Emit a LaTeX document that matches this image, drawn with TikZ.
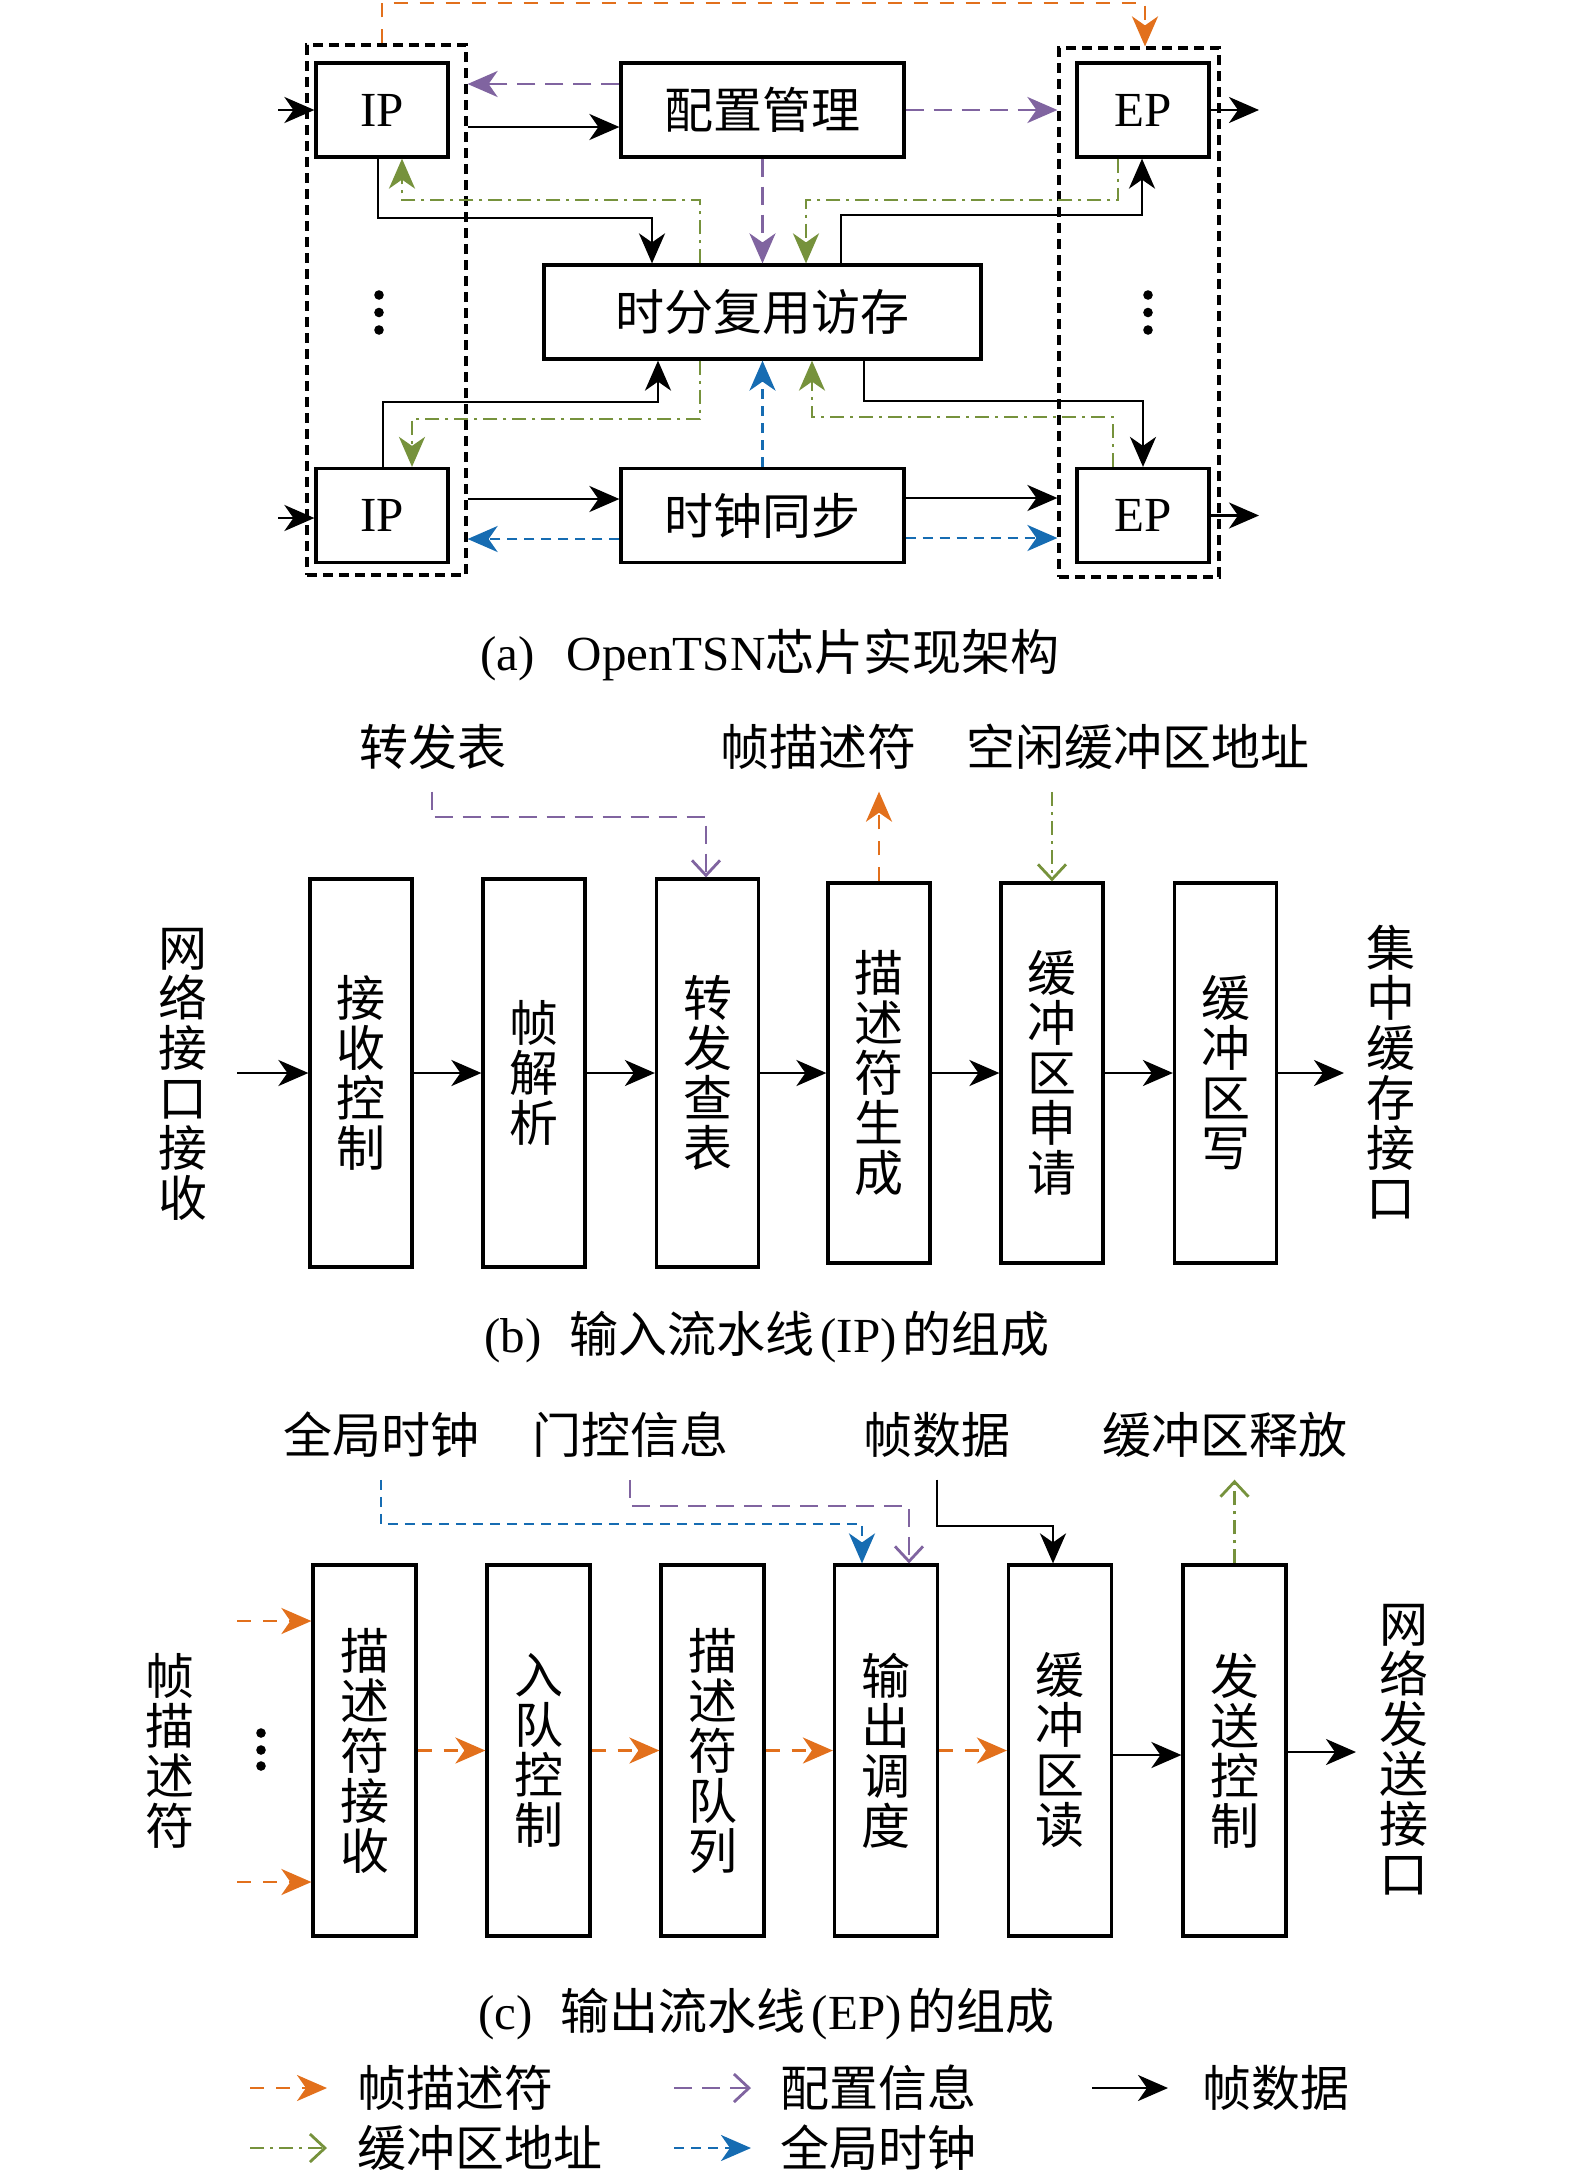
\documentclass[tikz,border=0pt]{standalone}
\usepackage{fontspec}
\setmainfont{Liberation Serif}
\newfontfamily\cjk{Noto Sans CJK SC}
\usetikzlibrary{arrows.meta}
\definecolor{corange}{RGB}{226,112,28}
\definecolor{cpurple}{RGB}{128,100,160}
\definecolor{cgreen}{RGB}{118,146,60}
\definecolor{cblue}{RGB}{22,108,178}
\newcommand\sz{\fontsize{24.5pt}{25pt}\selectfont}
\begin{document}
\begin{tikzpicture}[x=0.5pt,y=-0.5pt,font=\sz,
  box/.style={draw,line width=1.6pt,inner sep=0pt,font=\sz\cjk,align=center},
  lat/.style={draw,line width=1.6pt,inner sep=0pt,font=\sz,minimum width=66pt,minimum height=47pt},
  dbox/.style={draw,line width=1.6pt,dash pattern=on 5pt off 3pt,inner sep=0pt},
  lbl/.style={inner sep=0pt,outer sep=11pt,font=\sz\cjk},
  vtxt/.style={inner sep=0pt,font=\sz\cjk,align=center},
  leg/.style={inner sep=0pt,font=\sz\cjk,anchor=west},
  arrS/.style={-{Stealth[length=15pt,width=13pt,inset=4.5pt]}},
  arrV/.style={-{Straight Barb[length=7.5pt,width=14pt]}},
  blk/.style={line width=1.4pt,arrS},
  orA/.style={line width=1.4pt,corange,dash pattern=on 7pt off 6pt,arrS},
  puA/.style={line width=1.4pt,cpurple,dash pattern=on 9pt off 5pt,arrS},
  puV/.style={line width=1.4pt,cpurple,dash pattern=on 9pt off 5pt,arrV},
  grA/.style={line width=1.4pt,cgreen,dash pattern=on 7pt off 3pt on 1.5pt off 3pt,arrS},
  grV/.style={line width=1.4pt,cgreen,dash pattern=on 7pt off 3pt on 1.5pt off 3pt,arrV},
  blA/.style={line width=1.4pt,cblue,dash pattern=on 5pt off 3.5pt,arrS},
  bbox/.style={box,minimum width=51pt,minimum height=194pt},
  bboxs/.style={box,minimum width=51pt,minimum height=190pt},
  cbox/.style={box,minimum width=51.5pt,minimum height=185.5pt},
]
\useasboundingbox (0,0) rectangle (1575,2175);

% ---------------- (a) ----------------
\node[dbox,minimum width=79.5pt,minimum height=265pt] (lg) at (386.5,310) {};
\node[dbox,minimum width=80pt,minimum height=264.5pt] (rg) at (1139,312.5) {};
\node[lat] (ip1) at (382,110) {IP};
\node[box,minimum width=141.5pt,minimum height=47pt] (cfg) at (762.5,110) {配置管理};
\node[lat] (ep1) at (1143,110) {EP};
\node[box,minimum width=218.5pt,minimum height=47pt] (tdm) at (762.5,312) {时分复用访存};
\node[lat] (ip2) at (382,515.5) {IP};
\node[box,minimum width=141.5pt,minimum height=47pt] (clk) at (762.5,515.5) {时钟同步};
\node[lat] (ep2) at (1143,515.5) {EP};

\coordinate (ain1) at (278,110);
\coordinate (ain2) at (278,518);
\coordinate (aout1) at (1259,110);
\coordinate (aout2) at (1259,515.5);
\draw[blk] (ain1) -- (ip1.west);
\draw[blk] (ain2) -- (ip2.west |- ain2);
\draw[blk] (ep1.east) -- (aout1);
\draw[blk] (ep2.east) -- (aout2);

\draw[orA] (lg.north -| 382,0) -- (382,3) -| (1145,0 |- rg.north);
\draw[puA] (cfg.west |- 0,84) -- (lg.east |- 0,84);
\draw[blk] (lg.east |- 0,127) -- (cfg.west |- 0,127);
\draw[puA] (cfg.east) -- (rg.west |- cfg.east);
\draw[puA] (cfg.south) -- (tdm.north);
\draw[grA] (tdm.north -| 700,0) |- (402,200) -- (ip1.south -| 402,0);
\draw[blk] (ip1.south -| 378,0) |- (652,218) -- (tdm.north -| 652,0);
\draw[grA] (ep1.south -| 1118,0) |- (806,200) -- (tdm.north -| 806,0);
\draw[blk] (tdm.north -| 841,0) |- (1142,215) -- (ep1.south -| 1142,0);
\draw[blk] (ip2.north -| 383,0) |- (658,402) -- (tdm.south -| 658,0);
\draw[grA] (tdm.south -| 700,0) |- (412,419) -- (ip2.north -| 412,0);
\draw[blA] (clk.north) -- (tdm.south);
\draw[grA] (ep2.north -| 1113,0) |- (812,417) -- (tdm.south -| 812,0);
\draw[blk] (tdm.south -| 864,0) |- (1143,401) -- (ep2.north -| 1143,0);
\draw[blk] (lg.east |- 0,499) -- (clk.west |- 0,499);
\draw[blA] (clk.west |- 0,539) -- (lg.east |- 0,539);
\draw[blk] (clk.east |- 0,498) -- (rg.west |- 0,498);
\draw[blA] (clk.east |- 0,538) -- (rg.west |- 0,538);
\foreach \yy in {295,312.5,330}{
  \fill (379,\yy) circle (2.4pt);
  \fill (1148,\yy) circle (2.4pt);
}
\node[anchor=west,inner sep=0pt] (capa) at (480,655) {(a)\hspace{16pt}OpenTSN{\cjk 芯片实现架构}};

% ---------------- (b) ----------------
\node[lbl] (lb1) at (433,747) {转发表};
\node[lbl] (lb2) at (818,747) {帧描述符};
\node[lbl] (lb3) at (1138,747) {空闲缓冲区地址};
\node[bbox] (b1) at (361,1073) {接\\收\\控\\制};
\node[bbox] (b2) at (534,1073) {帧\\解\\析};
\node[bbox] (b3) at (707.5,1073) {转\\发\\查\\表};
\node[bboxs] (b4) at (879,1073) {描\\述\\符\\生\\成};
\node[bboxs] (b5) at (1052,1073) {缓\\冲\\区\\申\\请};
\node[bboxs] (b6) at (1225.5,1073) {缓\\冲\\区\\写};
\node[vtxt] (vb1) at (183,1074) {网\\络\\接\\口\\接\\收};
\node[vtxt] (vb2) at (1391,1072) {集\\中\\缓\\存\\接\\口};
\coordinate (bin) at (237,1073);
\coordinate (bout) at (1344,1073);
\draw[blk] (bin) -- (b1.west);
\draw[blk] (b1.east) -- (b2.west);
\draw[blk] (b2.east) -- (b3.west);
\draw[blk] (b3.east) -- (b4.west);
\draw[blk] (b4.east) -- (b5.west);
\draw[blk] (b5.east) -- (b6.west);
\draw[blk] (b6.east) -- (bout);
\draw[puV] (lb1.south -| 432,0) |- (706,817) -- (b3.north -| 706,0);
\draw[orA] (b4.north) -- (b4.north |- lb2.south);
\draw[grV] (b5.north |- lb3.south) -- (b5.north);
\node[anchor=west,inner sep=0pt] (capb) at (484,1337) {(b)\hspace{14pt}{\cjk 输入流水线}\hspace{3pt}(IP)\hspace{3pt}{\cjk 的组成}};

% ---------------- (c) ----------------
\node[lbl] (lc1) at (381,1435) {全局时钟};
\node[lbl] (lc2) at (630,1435) {门控信息};
\node[lbl] (lc3) at (937,1435) {帧数据};
\node[lbl] (lc4) at (1225,1435) {缓冲区释放};
\node[cbox] (c1) at (364.5,1750.5) {描\\述\\符\\接\\收};
\node[cbox] (c2) at (538.5,1750.5) {入\\队\\控\\制};
\node[cbox] (c3) at (712.5,1750.5) {描\\述\\符\\队\\列};
\node[cbox] (c4) at (886,1750.5) {输\\出\\调\\度};
\node[cbox] (c5) at (1060,1750.5) {缓\\冲\\区\\读};
\node[cbox] (c6) at (1234.5,1750.5) {发\\送\\控\\制};
\node[vtxt] (vc1) at (170,1751) {帧\\描\\述\\符};
\node[vtxt] (vc2) at (1404,1750) {网\\络\\发\\送\\接\\口};
\coordinate (cin1) at (237,1621);
\coordinate (cin2) at (237,1882);
\coordinate (cout) at (1356,1752);
\draw[orA] (cin1) -- (c1.west |- cin1);
\draw[orA] (cin2) -- (c1.west |- cin2);
\foreach \yy in {1733,1750,1766}{\fill (261,\yy) circle (2.4pt);}
\draw[orA] (c1.east) -- (c2.west);
\draw[orA] (c2.east) -- (c3.west);
\draw[orA] (c3.east) -- (c4.west);
\draw[orA] (c4.east) -- (c5.west);
\draw[blk] (c5.east |- 0,1755) -- (c6.west |- 0,1755);
\draw[blk] (c6.east |- cout) -- (cout);
\draw[blA] (lc1.south) |- (862,1524) -- (c4.north -| 862,0);
\draw[puV] (lc2.south) |- (909,1506) -- (c4.north -| 909,0);
\draw[blk] (lc3.south) |- (1053,1526) -- (c5.north -| 1053,0);
\draw[grV] (c6.north) -- (c6.north |- lc4.south);
\node[anchor=west,inner sep=0pt] (capc) at (478,2014) {(c)\hspace{14pt}{\cjk 输出流水线}\hspace{3pt}(EP)\hspace{3pt}{\cjk 的组成}};

% ---------------- legend ----------------
\node[leg] (t1) at (357,2088) {帧描述符};
\node[leg] (t2) at (780,2088) {配置信息};
\node[leg] (t3) at (1202,2088) {帧数据};
\node[leg] (t4) at (357,2148) {缓冲区地址};
\node[leg] (t5) at (780,2148) {全局时钟};
\coordinate (s1) at (250,2088); \coordinate (e1) at (327,2088);
\coordinate (s2) at (674,2088); \coordinate (e2) at (751,2088);
\coordinate (s3) at (1092,2088); \coordinate (e3) at (1168,2088);
\coordinate (s4) at (250,2148); \coordinate (e4) at (327,2148);
\coordinate (s5) at (674,2148); \coordinate (e5) at (751,2148);
\draw[orA] (s1) -- (e1);
\draw[puV] (s2) -- (e2);
\draw[blk] (s3) -- (e3);
\draw[grV] (s4) -- (e4);
\draw[blA] (s5) -- (e5);
\end{tikzpicture}
\end{document}
